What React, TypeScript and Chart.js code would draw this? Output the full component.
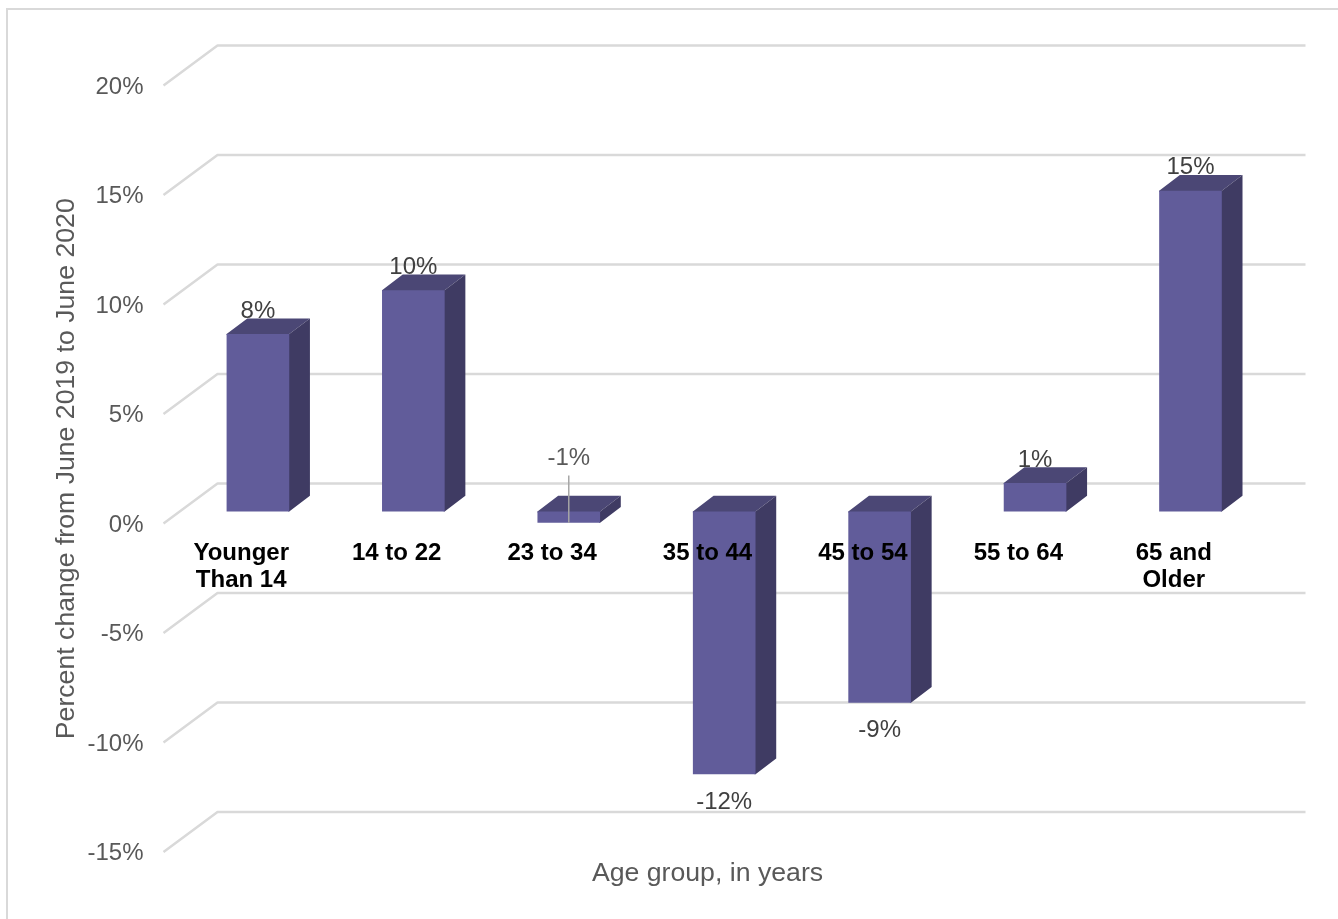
import React, { useEffect, useRef } from "react";
import { Chart, registerables } from "chart.js";

Chart.register(...registerables);

const ageGroups: (string | string[])[] = [
  ["Younger", "Than 14"],
  "14 to 22",
  "23 to 34",
  "35 to 44",
  "45 to 54",
  "55 to 64",
  ["65 and", "Older"],
];
const percentChange = [8.1, 10.1, -0.51, -12.0, -8.73, 1.3, 14.65];

const yAxisTitle = "Percent change from June 2019 to June 2020";
const xAxisTitle = "Age group, in years";

const FONT = '"Liberation Sans", Arial, sans-serif';
const GRID_COLOR = "#d9d9d9";
const TEXT_COLOR = "#595959";
const LABEL_COLOR = "#404040";
const FRONT_COLOR = "#615c9a";
const SIDE_COLOR = "#3f3b63";
const TOP_COLOR = "#4b4775";

// Oblique projection: the back wall sits up and to the right of the axis plane.
const WALL_DX = 54;
const WALL_DY = -40;
// Bars stand midway on the floor, and their own depth is smaller than the wall's.
const BAR_SHIFT_X = 16.7;
const BAR_SHIFT_Y = -12;
const BAR_DEPTH_X = 20.7;
const BAR_DEPTH_Y = -15.7;
// Hidden faces run slightly under the front face so no seam shows between them.
const FACE_OVERLAP = 1;

// Left axis box: title plus tick labels, measured from the canvas edge.
const LEFT_PADDING = 50.5;
const Y_AXIS_WIDTH = 113;
const Y_TICK_TEXT_DROP = 1.4;

// The small negative bar has its label lifted clear and tied back with a leader line.
const LEADER_INDEX = 2;
const LEADER_LABEL_BASELINE_GAP = 46;
const LEADER_TOP_GAP = 36;

const wallGrid = {
  id: "wallGrid",
  beforeDatasetsDraw(chart: any) {
    const { ctx, chartArea, scales } = chart;
    ctx.save();
    ctx.strokeStyle = GRID_COLOR;
    ctx.lineWidth = 2.5;
    ctx.lineJoin = "round";
    for (const tick of scales.y.ticks) {
      const y = scales.y.getPixelForValue(tick.value);
      ctx.beginPath();
      ctx.moveTo(chartArea.left, y);
      ctx.lineTo(chartArea.left + WALL_DX, y + WALL_DY);
      ctx.lineTo(chartArea.right + WALL_DX, y + WALL_DY);
      ctx.stroke();
    }
    ctx.restore();
  },
};

const extrudedBars = {
  id: "extrudedBars",
  beforeDatasetDraw(chart: any, args: any) {
    const { ctx } = chart;
    ctx.save();
    ctx.translate(BAR_SHIFT_X, BAR_SHIFT_Y);
    for (const bar of args.meta.data) {
      const left = bar.x - bar.width / 2;
      const right = bar.x + bar.width / 2;
      const top = Math.min(bar.y, bar.base);
      const bottom = Math.max(bar.y, bar.base);
      ctx.fillStyle = TOP_COLOR;
      ctx.beginPath();
      ctx.moveTo(left, top + FACE_OVERLAP);
      ctx.lineTo(left, top);
      ctx.lineTo(left + BAR_DEPTH_X, top + BAR_DEPTH_Y);
      ctx.lineTo(right + BAR_DEPTH_X, top + BAR_DEPTH_Y);
      ctx.lineTo(right, top);
      ctx.lineTo(right, top + FACE_OVERLAP);
      ctx.closePath();
      ctx.fill();
      ctx.fillStyle = SIDE_COLOR;
      ctx.beginPath();
      ctx.moveTo(right - FACE_OVERLAP, top);
      ctx.lineTo(right, top);
      ctx.lineTo(right + BAR_DEPTH_X, top + BAR_DEPTH_Y);
      ctx.lineTo(right + BAR_DEPTH_X, bottom + BAR_DEPTH_Y);
      ctx.lineTo(right, bottom);
      ctx.lineTo(right - FACE_OVERLAP, bottom);
      ctx.closePath();
      ctx.fill();
    }
  },
  afterDatasetDraw(chart: any) {
    chart.ctx.restore();
  },
};

const valueLabels = {
  id: "valueLabels",
  afterDatasetsDraw(chart: any) {
    const { ctx } = chart;
    const bars = chart.getDatasetMeta(0).data;
    ctx.save();
    ctx.font = `24px ${FONT}`;
    ctx.textAlign = "center";
    ctx.textBaseline = "alphabetic";
    ctx.fillStyle = LABEL_COLOR;
    percentChange.forEach((value, i) => {
      const bar = bars[i];
      const x = bar.x + BAR_SHIFT_X;
      const end = bar.y + BAR_SHIFT_Y;
      const text = `${value.toFixed(0)}%`;
      if (i === LEADER_INDEX) {
        const top = bar.base + BAR_SHIFT_Y;
        ctx.strokeStyle = "#a6a6a6";
        ctx.lineWidth = 1.5;
        ctx.beginPath();
        ctx.moveTo(x, top - LEADER_TOP_GAP);
        ctx.lineTo(x, end);
        ctx.stroke();
        ctx.fillStyle = TEXT_COLOR;
        ctx.fillText(text, x, top - LEADER_LABEL_BASELINE_GAP);
        ctx.fillStyle = LABEL_COLOR;
      } else if (value >= 0) {
        ctx.fillText(text, x, end - 16.5);
      } else {
        ctx.fillText(text, x, end + 34.5);
      }
    });
    ctx.restore();
  },
};

export default function App() {
  const canvasRef = useRef<HTMLCanvasElement | null>(null);

  useEffect(() => {
    const chart = new Chart(canvasRef.current as HTMLCanvasElement, {
      type: "bar",
      data: {
        labels: ageGroups as any,
        datasets: [
          {
            data: percentChange,
            backgroundColor: FRONT_COLOR,
            barPercentage: 0.403,
            categoryPercentage: 1,
            clip: false as any,
          },
        ],
      },
      options: {
        responsive: false,
        animation: false,
        events: [],
        layout: { padding: { left: LEFT_PADDING, right: 86.5, top: 85.5, bottom: 29 } },
        plugins: {
          legend: { display: false },
          tooltip: { enabled: false },
          title: {
            display: true,
            text: xAxisTitle,
            position: "bottom",
            fullSize: false,
            color: TEXT_COLOR,
            font: { family: FONT, size: 26.67, weight: "normal", lineHeight: 1.2 },
            padding: { top: 6, bottom: 0 },
          },
        },
        scales: {
          x: {
            position: { y: 0 } as any,
            grid: { display: false, drawTicks: false },
            border: { display: false },
            ticks: {
              z: 1,
              color: "#000000",
              padding: 16,
              autoSkip: false,
              maxRotation: 0,
              font: { family: FONT, size: 24, weight: "bold", lineHeight: 1.125 },
            },
          },
          y: {
            min: -15,
            max: 20,
            grid: { display: false, drawTicks: false },
            border: { display: false },
            afterFit: (scale: any) => {
              scale.width = Y_AXIS_WIDTH;
            },
            afterUpdate: (scale: any) => {
              // Tick text sits a little lower than canvas "middle" alignment puts it.
              if (scale.__dropApplied) return;
              scale.__dropApplied = true;
              const drawLabels = scale.drawLabels;
              scale.drawLabels = function (area: any) {
                this.ctx.save();
                this.ctx.translate(0, Y_TICK_TEXT_DROP);
                drawLabels.call(this, area);
                this.ctx.restore();
              };
            },
            ticks: {
              stepSize: 5,
              padding: 20,
              color: TEXT_COLOR,
              font: { family: FONT, size: 24 },
              callback: (v: any) => `${v}%`,
            },
            title: {
              display: true,
              text: yAxisTitle,
              color: TEXT_COLOR,
              font: { family: FONT, size: 26.67, lineHeight: 1.2 },
              padding: { top: 0, bottom: 7 },
            },
          },
        },
      },
      plugins: [wallGrid, extrudedBars, valueLabels],
    } as any);
    return () => chart.destroy();
  }, []);

  return (
    <>
      <div
        style={{
          position: "fixed",
          left: 6,
          top: 8,
          width: 1340,
          height: 920,
          border: `2px solid ${GRID_COLOR}`,
        }}
      />
      <canvas
        ref={canvasRef}
        width={1338}
        height={919}
        style={{ position: "fixed", left: 0, top: 0, width: 1338, height: 919, display: "block" }}
      />
    </>
  );
}
